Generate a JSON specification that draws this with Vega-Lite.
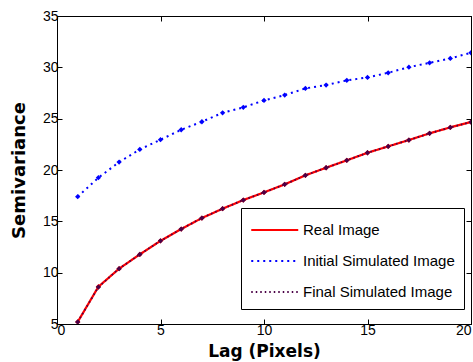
{
  "$schema": "https://vega.github.io/schema/vega-lite/v6.json",
  "width": 414,
  "height": 308,
  "autosize": {"type": "none"},
  "padding": {"left": 57, "top": 16, "right": 2, "bottom": 38},
  "background": "white",
  "config": {
    "view": {"stroke": "black", "strokeWidth": 1},
    "axis": {
      "grid": false,
      "domainColor": "black",
      "tickColor": "black",
      "labelColor": "black",
      "labelFont": "Liberation Sans",
      "labelFontSize": 14,
      "titleFont": "DejaVu Sans",
      "titleFontWeight": "bold",
      "titleColor": "black",
      "tickSize": -5,
      "labelPadding": 4
    }
  },
  "data": {
    "values": [
      {"series": "Real Image", "lag": 1, "value": 5.2},
      {"series": "Real Image", "lag": 2, "value": 8.63},
      {"series": "Real Image", "lag": 3, "value": 10.39},
      {"series": "Real Image", "lag": 4, "value": 11.78},
      {"series": "Real Image", "lag": 5, "value": 13.1},
      {"series": "Real Image", "lag": 6, "value": 14.25},
      {"series": "Real Image", "lag": 7, "value": 15.32},
      {"series": "Real Image", "lag": 8, "value": 16.23},
      {"series": "Real Image", "lag": 9, "value": 17.07},
      {"series": "Real Image", "lag": 10, "value": 17.82},
      {"series": "Real Image", "lag": 11, "value": 18.6},
      {"series": "Real Image", "lag": 12, "value": 19.48},
      {"series": "Real Image", "lag": 13, "value": 20.22},
      {"series": "Real Image", "lag": 14, "value": 20.94},
      {"series": "Real Image", "lag": 15, "value": 21.68},
      {"series": "Real Image", "lag": 16, "value": 22.3},
      {"series": "Real Image", "lag": 17, "value": 22.92},
      {"series": "Real Image", "lag": 18, "value": 23.57},
      {"series": "Real Image", "lag": 19, "value": 24.15},
      {"series": "Real Image", "lag": 20, "value": 24.67},
      {"series": "Initial Simulated Image", "lag": 1, "value": 17.4},
      {"series": "Initial Simulated Image", "lag": 2, "value": 19.25},
      {"series": "Initial Simulated Image", "lag": 3, "value": 20.77},
      {"series": "Initial Simulated Image", "lag": 4, "value": 22.0},
      {"series": "Initial Simulated Image", "lag": 5, "value": 22.95},
      {"series": "Initial Simulated Image", "lag": 6, "value": 23.92},
      {"series": "Initial Simulated Image", "lag": 7, "value": 24.7},
      {"series": "Initial Simulated Image", "lag": 8, "value": 25.57},
      {"series": "Initial Simulated Image", "lag": 9, "value": 26.1},
      {"series": "Initial Simulated Image", "lag": 10, "value": 26.78},
      {"series": "Initial Simulated Image", "lag": 11, "value": 27.3},
      {"series": "Initial Simulated Image", "lag": 12, "value": 27.95},
      {"series": "Initial Simulated Image", "lag": 13, "value": 28.27},
      {"series": "Initial Simulated Image", "lag": 14, "value": 28.73},
      {"series": "Initial Simulated Image", "lag": 15, "value": 29.02},
      {"series": "Initial Simulated Image", "lag": 16, "value": 29.47},
      {"series": "Initial Simulated Image", "lag": 17, "value": 30.02},
      {"series": "Initial Simulated Image", "lag": 18, "value": 30.44},
      {"series": "Initial Simulated Image", "lag": 19, "value": 30.87},
      {"series": "Initial Simulated Image", "lag": 20, "value": 31.42},
      {"series": "Final Simulated Image", "lag": 1, "value": 5.2},
      {"series": "Final Simulated Image", "lag": 2, "value": 8.6},
      {"series": "Final Simulated Image", "lag": 3, "value": 10.39},
      {"series": "Final Simulated Image", "lag": 4, "value": 11.78},
      {"series": "Final Simulated Image", "lag": 5, "value": 13.1},
      {"series": "Final Simulated Image", "lag": 6, "value": 14.25},
      {"series": "Final Simulated Image", "lag": 7, "value": 15.32},
      {"series": "Final Simulated Image", "lag": 8, "value": 16.23},
      {"series": "Final Simulated Image", "lag": 9, "value": 17.07},
      {"series": "Final Simulated Image", "lag": 10, "value": 17.82},
      {"series": "Final Simulated Image", "lag": 11, "value": 18.6},
      {"series": "Final Simulated Image", "lag": 12, "value": 19.48},
      {"series": "Final Simulated Image", "lag": 13, "value": 20.22},
      {"series": "Final Simulated Image", "lag": 14, "value": 20.94},
      {"series": "Final Simulated Image", "lag": 15, "value": 21.68},
      {"series": "Final Simulated Image", "lag": 16, "value": 22.3},
      {"series": "Final Simulated Image", "lag": 17, "value": 22.92},
      {"series": "Final Simulated Image", "lag": 18, "value": 23.57},
      {"series": "Final Simulated Image", "lag": 19, "value": 24.15},
      {"series": "Final Simulated Image", "lag": 20, "value": 24.67}
    ]
  },
  "layer": [
    {
      "mark": {"type": "line", "clip": true},
      "encoding": {
        "x": {"field": "lag", "type": "quantitative", "scale": {"domain": [0, 20], "nice": false}, "axis": {"orient": "bottom", "values": [0, 5, 10, 15, 20], "title": "Lag (Pixels)", "titleFontSize": 17, "titlePadding": 6}},
        "y": {"field": "value", "type": "quantitative", "scale": {"domain": [5, 35], "nice": false, "zero": false}, "axis": {"orient": "left", "values": [5, 10, 15, 20, 25, 30, 35], "title": "Semivariance", "titleFontSize": 18, "titlePadding": 14}},
        "color": {"field": "series", "type": "nominal", "scale": {"domain": ["Real Image", "Initial Simulated Image", "Final Simulated Image"], "range": ["#ff0000", "#0000ff", "#4a0046"]},
          "legend": {"title": null, "orient": "none", "legendX": 184, "legendY": 192, "symbolType": "M-1,0H3", "symbolSize": 552, "symbolStrokeWidth": 2, "rowPadding": 10, "labelFont": "Liberation Sans", "labelFontSize": 15, "labelColor": "black", "labelOffset": 27, "padding": 9, "strokeColor": "black", "fillColor": "white", "labelLimit": 300}},
        "strokeDash": {"field": "series", "type": "nominal", "scale": {"domain": ["Real Image", "Initial Simulated Image", "Final Simulated Image"], "range": [[1, 0], [2, 4], [1.5, 3]]}, "legend": null},
        "strokeWidth": {"field": "series", "type": "nominal", "scale": {"domain": ["Real Image", "Initial Simulated Image", "Final Simulated Image"], "range": [2.2, 1.8, 1.2]}, "legend": null},
        "order": {"field": "lag", "type": "quantitative"}
      }
    },
    {
      "mark": {"type": "point", "shape": "diamond", "filled": true, "size": 28, "opacity": 1, "clip": true},
      "encoding": {
        "x": {"field": "lag", "type": "quantitative", "axis": null},
        "y": {"field": "value", "type": "quantitative", "axis": null},
        "color": {"field": "series", "type": "nominal", "legend": null}
      }
    },
    {
      "mark": {"type": "rule", "opacity": 0},
      "encoding": {
        "x": {"field": "lag", "type": "quantitative", "axis": {"orient": "top", "values": [0, 5, 10, 15, 20], "labels": false, "title": null}},
        "y": {"field": "value", "type": "quantitative", "axis": {"orient": "right", "values": [5, 10, 15, 20, 25, 30, 35], "labels": false, "title": null}}
      }
    }
  ],
  "resolve": {"axis": {"x": "independent", "y": "independent"}}
}
